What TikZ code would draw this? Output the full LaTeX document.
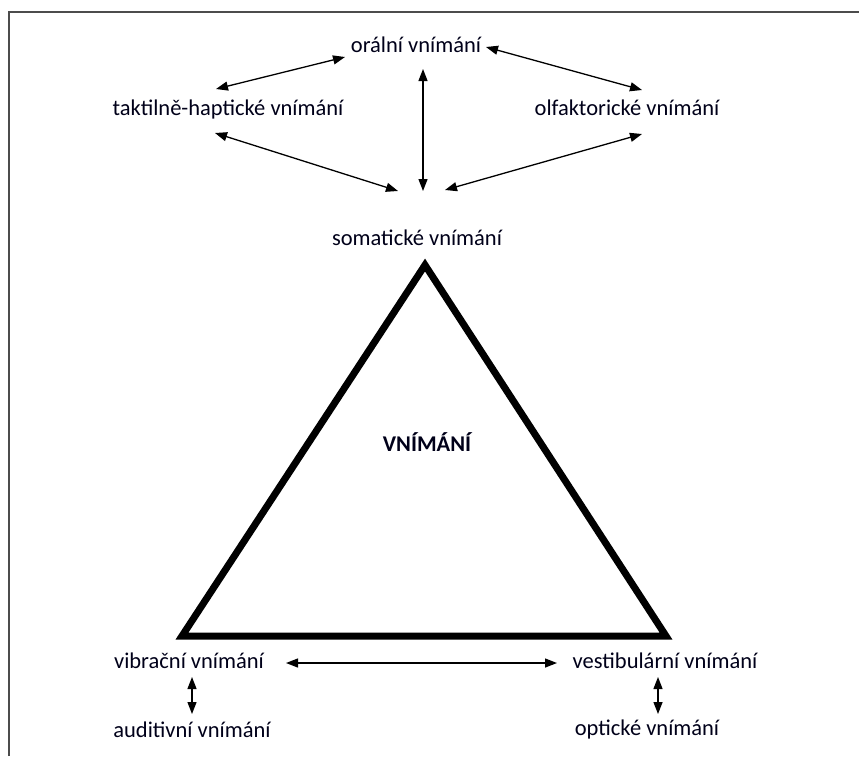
\documentclass[tikz,border=0pt]{standalone}
\usepackage{fontspec}
\setmainfont{Carlito}
\usetikzlibrary{arrows.meta}
\tikzset{
  lbl/.style={inner sep=0pt, anchor=base, text=black!90!blue, font=\fontsize{22.5}{27}\selectfont},
  ttl/.style={lbl, font=\fontsize{22.5}{27}\selectfont\bfseries},
  conn/.style={line width=1.3pt, {Triangle[length=12pt,width=9pt]}-{Triangle[length=12pt,width=9pt]}},
  frame/.style={line width=1.6pt, draw=black!70},
  tri/.style={line width=7pt, line join=miter}
}
\begin{document}
\begin{tikzpicture}[x=1pt,y=-1pt]
\useasboundingbox (0,0) rectangle (859,756);
\draw[frame] (9,756) -- (9,12) -- (859,12);

% labels
\node[lbl] (oral) at (416,52) {orální vnímání};
\node[lbl] (takt) at (228,115) {taktilně-haptické vnímání};
\node[lbl] (olf) at (627,115) {olfaktorické vnímání};
\node[lbl] (som) at (417,245) {somatické vnímání};
\node[ttl] (vn) at (427,451) {VNÍMÁNÍ};
\node[lbl] (vib) at (189,668) {vibrační vnímání};
\node[lbl] (aud) at (192,737) {auditivní vnímání};
\node[lbl] (ves) at (665,668) {vestibulární vnímání};
\node[lbl] (opt) at (647,735) {optické vnímání};

% triangle
\coordinate (tA) at (425,265);
\coordinate (tB) at (182,636);
\coordinate (tC) at (666,636);
\draw[tri] (tA) -- (tB) -- (tC) -- cycle;

% connector end points
\coordinate (o1) at (345,57);
\coordinate (t1) at (216,89);
\coordinate (t2) at (215,133);
\coordinate (c1) at (398,191);
\coordinate (o2) at (423,69);
\coordinate (c2) at (423,191);
\coordinate (o3) at (486,47);
\coordinate (f1) at (642,90);
\coordinate (f2) at (642,134);
\coordinate (c3) at (445,190);
\coordinate (v1) at (286,663);
\coordinate (s1) at (557,663);
\coordinate (v2) at (192,677);
\coordinate (a1) at (192,714);
\coordinate (s2) at (658,677);
\coordinate (p1) at (658,714);

\draw[conn] (t1) -- (o1);
\draw[conn] (t2) -- (c1);
\draw[conn] (o2) -- (c2);
\draw[conn] (o3) -- (f1);
\draw[conn] (f2) -- (c3);
\draw[conn] (v1) -- (s1);
\draw[conn] (v2) -- (a1);
\draw[conn] (s2) -- (p1);
\end{tikzpicture}
\end{document}
